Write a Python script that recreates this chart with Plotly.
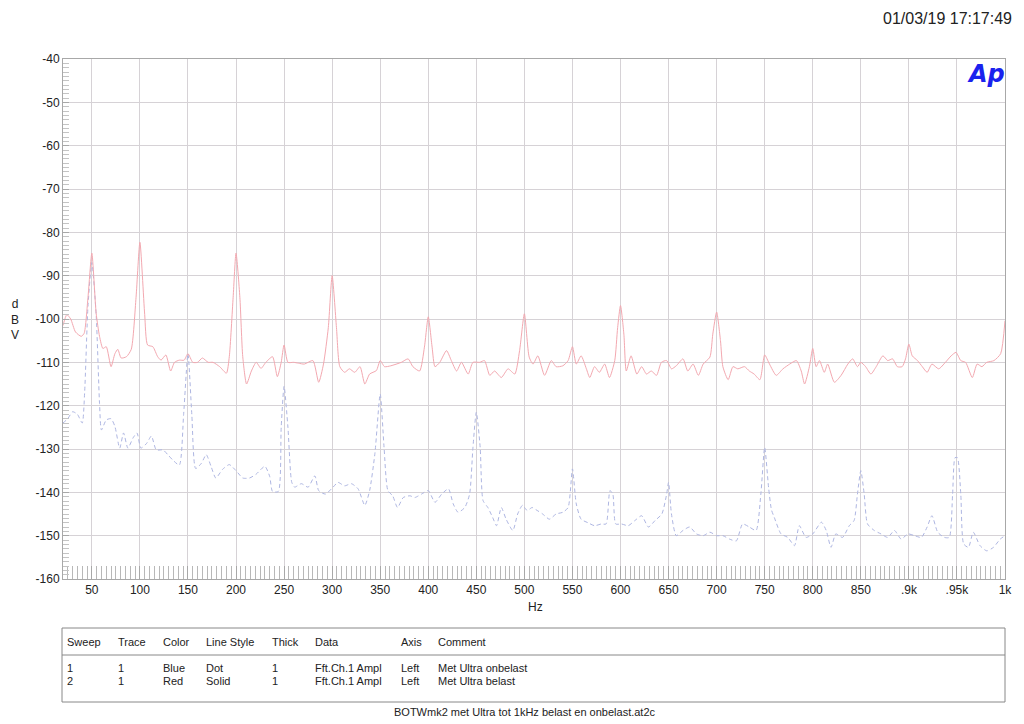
import plotly.graph_objects as go

# Sweep 2 - red solid, "Met Ultra belast"
freq_red = [20, 24, 28, 33, 39, 42, 46, 50, 54.5, 58, 61.5, 65, 70, 74, 77, 80.5, 86, 91, 96, 100,
            105, 108, 113.5, 118.5, 122, 127, 132, 136, 141, 146, 150, 155, 160, 165, 171, 176, 183,
            190, 193, 197, 200, 204, 207, 211, 216, 221, 226, 231, 238, 243, 247, 250, 254, 260, 265,
            271, 280, 286, 291, 296, 300, 304.5, 308, 313, 318, 323.5, 329, 334, 339, 346, 350, 354.5,
            361, 372, 379, 384, 391, 396, 400, 404, 407, 412, 419, 424, 429.5, 434.5, 441.5, 446.5,
            453.5, 458.5, 464, 469, 476, 483, 490, 495, 500, 505, 509, 514, 521, 528, 533, 540, 545.5,
            550, 554, 559, 564.5, 568, 573, 578, 583.5, 588.5, 594, 597, 600, 603.5, 606, 611, 617, 622,
            627, 632, 637.5, 642.5, 648, 653, 658, 665, 670, 675.5, 681, 686, 693, 696, 700, 704, 706.5,
            712, 717, 722, 729, 734, 739, 745, 750, 755, 762, 769, 776, 783, 788, 791.5, 796.5, 800,
            803.5, 807, 812, 815.5, 822.5, 829.5, 836.5, 841.5, 846.5, 850, 855, 860.5, 866, 873, 878,
            883, 888, 893, 896.5, 900, 903.5, 909, 914, 919, 924, 931, 938, 944, 949, 954, 959, 966,
            971, 976, 981, 988.5, 995.5, 1000]
db_red = [-101.5, -99, -100, -103, -104, -103.3, -95, -84.8, -98.7, -104, -106.8, -106.4, -111, -108,
          -107, -109, -108.7, -107, -95, -82.3, -99, -106, -106.4, -108.7, -109.5, -108.3, -112, -110,
          -109.5, -109.5, -108, -110, -110, -109, -110, -110, -111, -112.5, -108.7, -95, -84.8, -95,
          -108.7, -115, -112, -110, -111.4, -110, -108.7, -113.3, -110, -106, -110, -110, -110.2,
          -110.4, -109.6, -114.6, -110.4, -102, -90, -102, -111, -112.3, -111.5, -112.3, -111, -115,
          -112.7, -111.9, -109.6, -111, -110.8, -110, -109.2, -111, -112, -106.5, -99.5, -106.5, -111,
          -110, -107.3, -109.6, -112, -110, -112.7, -110, -110, -109.6, -113, -112, -113.5, -111.5,
          -112.7, -107.3, -98.8, -108.8, -110.4, -108.5, -113, -109.6, -111, -110.8, -109.6, -106.4,
          -110.4, -108.5, -111.5, -113.5, -111, -112.3, -110.4, -113.5, -109.6, -102, -96.9, -103.5,
          -112, -108.5, -112.7, -111, -112.7, -112, -113, -110, -109.6, -111.5, -110.8, -109.2, -112,
          -110.4, -113, -110.4, -108.8, -103.5, -98.4, -105, -111, -114, -111, -111.5, -111, -112,
          -112.7, -114, -108.3, -110.4, -113, -111.5, -110.4, -109.6, -112, -115, -111, -106.8, -111,
          -109.6, -112.3, -110.4, -114.6, -113, -110.4, -109.2, -111, -110, -111, -112.7, -111,
          -108.5, -109.6, -109.2, -111, -111, -109.2, -105.8, -108.5, -109.6, -111, -112.3, -110.4,
          -111.5, -110, -108.5, -107.7, -109.6, -110, -113.5, -110.4, -111, -110, -109.6, -108, -100.4]

# Sweep 1 - blue dot, "Met Ultra onbelast"
freq_blue = [20, 25, 30, 35, 40, 42.5, 46, 50, 54.5, 58, 60, 65, 70, 74, 79, 83, 87.5, 93, 97, 101,
             107, 112, 117, 124, 129, 134, 141, 145.5, 150, 154, 158, 164, 169, 174, 179, 186, 193,
             200, 207, 214, 221, 230, 235, 238, 244, 247, 250, 254, 258, 261, 268, 275, 282, 286, 293,
             301, 306, 313, 320, 327, 334, 339, 344.5, 350, 354, 358, 363, 368, 374, 381, 386, 393,
             400, 407, 414, 421, 426, 431, 438, 443, 446.5, 450, 454, 457, 462, 467, 471, 476, 481,
             488, 493, 498, 503, 508, 512, 519, 526, 533, 540, 545.5, 550, 554, 559, 566, 573, 580,
             585, 589, 592, 595, 601, 608, 615, 622, 629, 636, 643, 648, 650, 653, 658, 665, 672, 679,
             686, 693, 700, 706.5, 713.5, 720.5, 727, 734, 741, 746, 750, 754, 757, 760, 767, 774, 781,
             786, 793, 800, 809, 814, 819, 824, 831, 838, 843, 846.5, 850, 853.5, 857, 864, 871, 878,
             885, 892, 899, 906, 913, 919, 924, 930, 937, 942, 945.5, 948, 950.5, 954, 957, 962, 967,
             974, 981, 988, 995, 1000]
db_blue = [-124, -123, -121.4, -122, -124, -117, -97, -87, -99, -119.5, -125.6, -123.3, -123, -124.8,
           -129.8, -126.3, -129.8, -127.4, -126.3, -129.8, -128.7, -127, -130.2, -130.2, -131.3,
           -132.5, -133.7, -122, -108, -122, -134.5, -133.3, -131.3, -134, -136.7, -134.7, -133.6,
           -135, -136.7, -136.7, -135.8, -134, -136.3, -139.8, -139.8, -125, -115.5, -125, -137.7,
           -138.8, -138, -138.8, -136.2, -139.6, -140.4, -138.8, -137.7, -138.5, -138, -139.2, -143,
           -139.6, -131, -117.3, -129.6, -139.6, -140.8, -143.5, -141.2, -140.8, -141.2, -140.4,
           -139.6, -142.3, -140.4, -139.2, -142.7, -144.6, -143.5, -140.4, -129.6, -121.5, -129.6,
           -141.9, -143.5, -145.8, -147.7, -143.5, -146.2, -148.8, -145, -143, -144.2, -143.5, -144,
           -145, -146.2, -145, -144.6, -143.5, -134.6, -142.7, -146.2, -147, -147.7, -147.3, -147.3,
           -139.6, -140.4, -147.3, -147.3, -147.7, -146.5, -145.4, -148, -146.5, -145, -140.4, -137.7,
           -145, -150, -148.8, -148, -149.6, -150, -149.2, -150, -150, -150.8, -151.2, -147.3, -148,
           -148.8, -140.4, -129.6, -138.8, -144, -145.8, -149.6, -150.4, -152.3, -147.7, -150.4,
           -149.6, -146.9, -148.8, -152.7, -149.6, -150.4, -147.7, -146.5, -140.4, -135, -140.4,
           -147.3, -148.8, -149.6, -150.4, -148.8, -150.8, -149.6, -150, -150.4, -148, -145.4, -149.2,
           -150.4, -150.4, -140.4, -132, -132, -140.4, -151.9, -152.7, -149.2, -152.3, -153.5, -152.7,
           -150.8, -150]

x_tickvals = [50, 100, 150, 200, 250, 300, 350, 400, 450, 500, 550, 600, 650, 700, 750, 800, 850,
              900, 950, 1000]
x_ticktext = ["50", "100", "150", "200", "250", "300", "350", "400", "450", "500", "550", "600",
              "650", "700", "750", "800", "850", ".9k", ".95k", "1k"]
y_tickvals = [-160, -150, -140, -130, -120, -110, -100, -90, -80, -70, -60, -50, -40]
y_ticktext = ["-160", "-150", "-140", "-130", "-120", "-110", "-100", "-90", "-80", "-70", "-60",
              "-50", "-40"]

table_header = ["Sweep", "Trace", "Color", "Line Style", "Thick", "Data", "Axis", "Comment"]
table_rows = [["1", "1", "Blue", "Dot", "1", "Fft.Ch.1 Ampl", "Left", "Met Ultra onbelast"],
              ["2", "1", "Red", "Solid", "1", "Fft.Ch.1 Ampl", "Left", "Met Ultra belast"]]
table_col_x = [65, 116, 161, 204, 270, 313, 399, 436]

file_name = "BOTWmk2 met Ultra tot 1kHz belast en onbelast.at2c"
timestamp = "01/03/19 17:17:49"

# page has an 8px body margin, so work in page pixels and shift
OFF = 8
L, R, T, B = 63, 1005, 59, 579
W, H = 1024 - OFF, 724 - OFF


def px(x):
    return (x - L) / (R - L)


def py(y):
    return (B - y) / (B - T)


FONT = "Liberation Sans, Arial, Helvetica, sans-serif"
GRID = "#d6d2d6"
FRAME = "#a8a8a8"

fig = go.Figure()
fig.add_trace(go.Scatter(x=freq_blue, y=db_blue, mode="lines", name="Met Ultra onbelast",
                         line=dict(color="#aeb6e2", width=1, dash="4px,3px",
                                   shape="spline", smoothing=0.6)))
fig.add_trace(go.Scatter(x=freq_red, y=db_red, mode="lines", name="Met Ultra belast",
                         line=dict(color="#f3a8b0", width=1, shape="spline", smoothing=0.6)))

fig.update_layout(
    width=W, height=H,
    margin=dict(l=L - OFF, r=1024 - R, t=T - OFF, b=724 - B),
    paper_bgcolor="white", plot_bgcolor="white",
    showlegend=False,
    font=dict(family=FONT, size=12, color="#222222"),
)

fig.update_xaxes(range=[20, 1000], tickmode="array", tickvals=x_tickvals, ticktext=x_ticktext,
                 showgrid=True, gridcolor=GRID, gridwidth=1, zeroline=False,
                 showline=True, linecolor=FRAME, mirror=True,
                 ticks="inside", ticklen=13, tickcolor=FRAME,
                 minor=dict(dtick=5, tick0=0, ticks="inside", ticklen=13, tickcolor="#b8b8b8",
                            showgrid=False),
                 tickfont=dict(size=12, color="#222222"))
fig.update_yaxes(range=[-160, -40], tickmode="array", tickvals=y_tickvals, ticktext=y_ticktext,
                 showgrid=True, gridcolor=GRID, gridwidth=1, zeroline=False,
                 showline=True, linecolor=FRAME, mirror=True,
                 ticks="inside", ticklen=6, tickcolor=FRAME,
                 minor=dict(dtick=1, tick0=0, ticks="inside", ticklen=6, tickcolor="#c4c4c4",
                            showgrid=False),
                 tickfont=dict(size=12, color="#222222"))

ann = []
# axis titles
ann.append(dict(x=px(535), y=py(607), text="Hz", xanchor="center", font=dict(size=12)))
ann.append(dict(x=px(15), y=py(319), text="d<br>B<br>V", xanchor="center",
                font=dict(size=12), align="center"))
# timestamp and logo
ann.append(dict(x=px(1014), y=py(18), text=timestamp, xanchor="right",
                font=dict(size=16, color="#222222")))
ann.append(dict(x=px(986), y=py(74), text="<b><i>Ap</i></b>", xanchor="center",
                font=dict(family="DejaVu Sans, sans-serif", size=24, color="#1a22ee")))

# legend table
for cx, txt in zip(table_col_x, table_header):
    ann.append(dict(x=px(cx), y=py(642), text=txt, xanchor="left", font=dict(size=11)))
for ry, row in zip([668, 681], table_rows):
    for cx, txt in zip(table_col_x, row):
        ann.append(dict(x=px(cx), y=py(ry), text=txt, xanchor="left", font=dict(size=11)))
ann.append(dict(x=px(525), y=py(712), text=file_name, xanchor="center", font=dict(size=11)))

for a in ann:
    a["xref"] = "paper"
    a["yref"] = "paper"
    a["yanchor"] = "middle"
    a["showarrow"] = False
fig.update_layout(annotations=ann)

fig.add_shape(type="rect", xref="paper", yref="paper", x0=px(62), x1=px(1005), y0=py(628), y1=py(702),
              line=dict(color="#888888", width=1))
fig.add_shape(type="line", xref="paper", yref="paper", x0=px(62), x1=px(1005), y0=py(655), y1=py(655),
              line=dict(color="#888888", width=1))

fig.write_html("out.html")
